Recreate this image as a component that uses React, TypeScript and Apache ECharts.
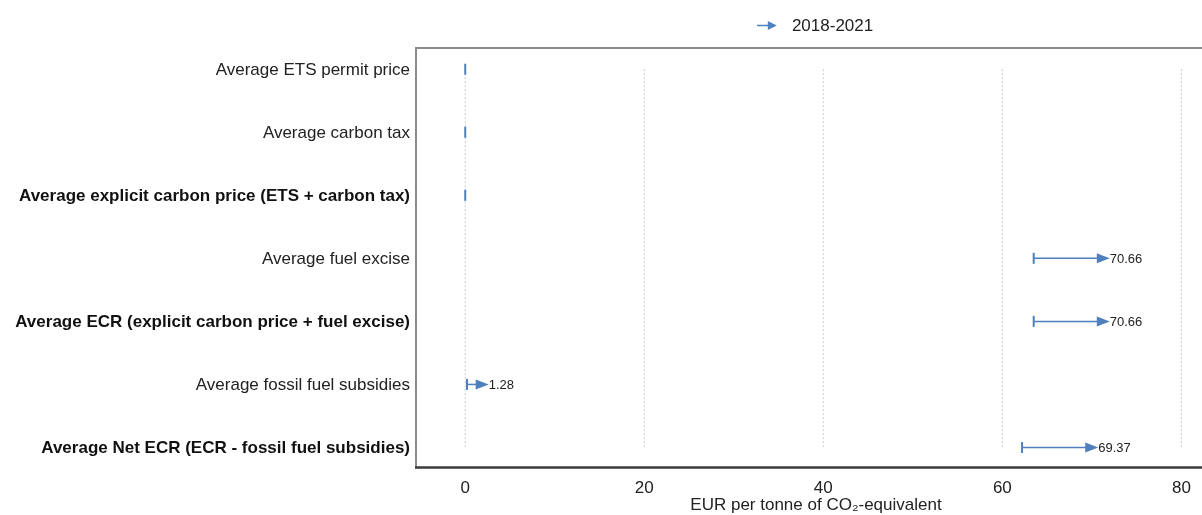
import React, { useEffect, useRef } from "react";
import * as echarts from "echarts";

const categories = [
  "Average ETS permit price",
  "Average carbon tax",
  "Average explicit carbon price (ETS + carbon tax)",
  "Average fuel excise",
  "Average ECR (explicit carbon price + fuel excise)",
  "Average fossil fuel subsidies",
  "Average Net ECR (ECR - fossil fuel subsidies)",
];
const boldRows = [false, false, true, false, true, false, true];
const start2018 = [0, 0, 0, 63.5, 63.5, 0.2, 62.2];
const end2021 = [0, 0, 0, 70.66, 70.66, 1.28, 69.37];
const gridValues = [0, 20, 40, 60, 80];
const seriesName = "2018-2021";
const xAxisTitle = "EUR per tonne of CO\u2082-equivalent";

const BLUE = "#4f7fbd";
const FONT = "'Liberation Sans', Arial, sans-serif";

export default function App() {
  const ref = useRef<HTMLDivElement>(null);
  useEffect(() => {
    if (!ref.current) return;
    const chart = echarts.init(ref.current, null, { renderer: "svg" });
    const data = categories.map((_, i) => [start2018[i], end2021[i], i]);
    chart.setOption({
      animation: false,
      textStyle: { fontFamily: FONT },
      legend: {
        top: 12,
        left: 752,
        itemWidth: 22,
        itemHeight: 9,
        textStyle: {
          fontSize: 17,
          color: "#222",
          fontFamily: FONT,
          padding: [0, 0, 0, 9],
        },
        data: [
          {
            name: seriesName,
            icon: "path://M0,4.2L12,4.2L12,0L22,5L12,10L12,5.8L0,5.8Z",
          },
        ],
      },
      grid: {
        left: 416,
        width: 786,
        top: 37.7,
        height: 441.3,
        outerBoundsMode: "none",
        containLabel: false,
      },
      xAxis: {
        type: "value",
        min: -5.5,
        max: 82.3,
        axisLine: { show: false },
        axisTick: { show: false },
        splitLine: { show: false },
        axisLabel: {
          margin: 0,
          fontSize: 17,
          lineHeight: 17,
          color: "#222",
          fontFamily: FONT,
          formatter: (v: number) => (gridValues.includes(v) ? String(v) : ""),
        },
        name: xAxisTitle,
        nameLocation: "middle",
        nameGap: 17,
        nameMoveOverlap: false,
        nameTextStyle: {
          fontSize: 17,
          lineHeight: 17,
          color: "#222",
          fontFamily: FONT,
          padding: [0, 0, 0, 14],
        },
      },
      yAxis: {
        type: "category",
        data: categories,
        inverse: true,
        axisLine: { show: false },
        axisTick: { show: false },
        splitLine: { show: false },
        axisLabel: {
          margin: 6,
          formatter: (v: string) => {
            const i = categories.indexOf(v);
            return boldRows[i] ? `{b|${v}}` : `{n|${v}}`;
          },
          rich: {
            b: { fontSize: 17, fontWeight: "bold", color: "#111", fontFamily: FONT },
            n: { fontSize: 17, color: "#222", fontFamily: FONT },
          },
        },
      },
      graphic: [
        {
          type: "line",
          shape: { x1: 416, y1: 48, x2: 1210, y2: 48 },
          style: { stroke: "#8a8a8a", lineWidth: 2 },
          z: 10,
        },
        {
          type: "line",
          shape: { x1: 416, y1: 47, x2: 416, y2: 468 },
          style: { stroke: "#8a8a8a", lineWidth: 2 },
          z: 10,
        },
        {
          type: "line",
          shape: { x1: 415, y1: 467.5, x2: 1210, y2: 467.5 },
          style: { stroke: "#3a3a3a", lineWidth: 2.5 },
          z: 10,
        },
      ],
      series: [
        {
          type: "custom",
          name: "grid",
          silent: true,
          data: gridValues.map((v) => [v]),
          encode: { x: 0 },
          renderItem: (params: any, api: any) => {
            const top = api.coord([api.value(0), 0]);
            const bot = api.coord([api.value(0), categories.length - 1]);
            return {
              type: "line",
              shape: { x1: top[0], y1: top[1], x2: bot[0], y2: bot[1] },
              style: { stroke: "#c9c9c9", lineWidth: 1, lineDash: [2, 2] },
              z2: 0,
            };
          },
        },
        {
          type: "custom",
          name: seriesName,
          itemStyle: { color: BLUE },
          data,
          encode: { x: [0, 1], y: 2 },
          renderItem: (params: any, api: any) => {
            const s = api.value(0);
            const e = api.value(1);
            const row = api.value(2);
            const p0 = api.coord([s, row]);
            const p1 = api.coord([e, row]);
            const y = p0[1];
            const children: any[] = [
              {
                type: "line",
                shape: { x1: p0[0], y1: y - 5.5, x2: p0[0], y2: y + 5.5 },
                style: { stroke: BLUE, lineWidth: 2 },
              },
            ];
            if (e > s) {
              children.push({
                type: "line",
                shape: { x1: p0[0], y1: y, x2: p1[0], y2: y },
                style: { stroke: BLUE, lineWidth: 1.5 },
              });
              children.push({
                type: "polygon",
                shape: {
                  points: [
                    [p1[0] - 1, y - 5],
                    [p1[0] + 12, y],
                    [p1[0] - 1, y + 5],
                  ],
                },
                style: { fill: BLUE },
              });
              children.push({
                type: "text",
                x: p1[0] + 12,
                y: y,
                style: {
                  text: e.toFixed(2),
                  fontSize: 13,
                  fontFamily: FONT,
                  fill: "#222",
                  verticalAlign: "middle",
                  align: "left",
                },
              });
            }
            return { type: "group", children };
          },
        },
      ],
    });
    return () => chart.dispose();
  }, []);
  return (
    <div
      ref={ref}
      style={{ position: "fixed", left: 0, top: 0, width: 1202, height: 515 }}
    />
  );
}
